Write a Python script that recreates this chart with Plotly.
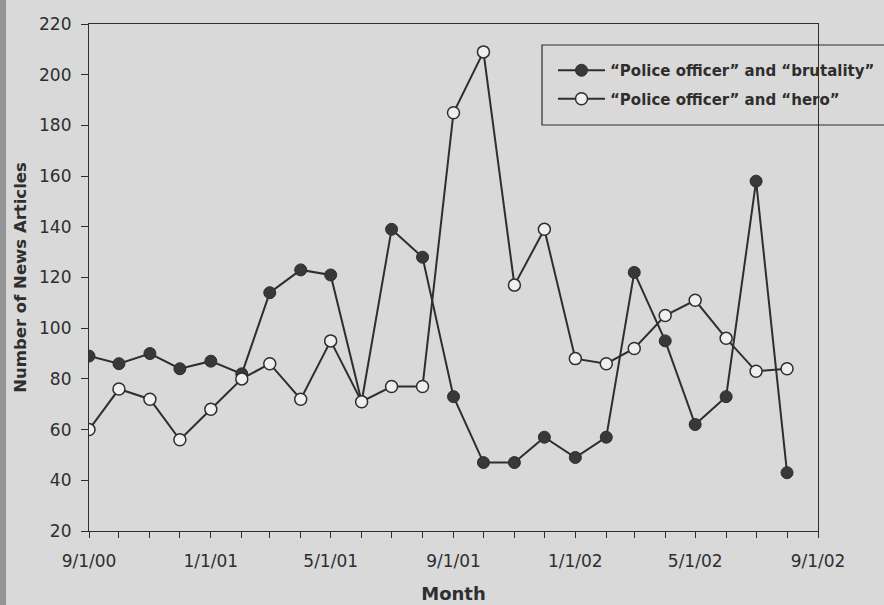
import plotly.graph_objects as go

# Monthly article counts, Sept 2000 - Aug 2002
months = ["2000-09-01", "2000-10-01", "2000-11-01", "2000-12-01",
          "2001-01-01", "2001-02-01", "2001-03-01", "2001-04-01",
          "2001-05-01", "2001-06-01", "2001-07-01", "2001-08-01",
          "2001-09-01", "2001-10-01", "2001-11-01", "2001-12-01",
          "2002-01-01", "2002-02-01", "2002-03-01", "2002-04-01",
          "2002-05-01", "2002-06-01", "2002-07-01", "2002-08-01"]
brutality = [89, 86, 90, 84, 87, 82, 114, 123, 121, 71, 139, 128,
             73, 47, 47, 57, 49, 57, 122, 95, 62, 73, 158, 43]
hero = [60, 76, 72, 56, 68, 80, 86, 72, 95, 71, 77, 77,
        185, 209, 117, 139, 88, 86, 92, 105, 111, 96, 83, 84]

x_tickvals = ["2000-09-01", "2001-01-01", "2001-05-01", "2001-09-01",
              "2002-01-01", "2002-05-01", "2002-09-01"]
x_ticktext = ["9/1/00", "1/1/01", "5/1/01", "9/1/01", "1/1/02", "5/1/02", "9/1/02"]
y_tickvals = list(range(20, 221, 20))

ink = "#2e2e2e"
paper = "#d9d9d9"
bold_font = "DejaVu Sans"

fig = go.Figure()
fig.add_trace(go.Scatter(
    x=months, y=brutality, mode="lines+markers",
    name="“Police officer” and “brutality”", legendgroup="a",
    line=dict(color=ink, width=2),
    marker=dict(symbol="circle", size=12, color="#383838",
                line=dict(color=ink, width=1)),
))
fig.add_trace(go.Scatter(
    x=months, y=hero, mode="lines+markers",
    name="“Police officer” and “hero”", legendgroup="b",
    line=dict(color=ink, width=2),
    marker=dict(symbol="circle", size=12, color="#efefef",
                line=dict(color=ink, width=1.5)),
))

W, H = 884, 605
L, R, T, B = 89, 66, 24, 74
pw = W - L - R
ph = H - T - B

def px_x(v):
    return (v - L) / pw

def px_y(v):
    return 1 - (v - T) / ph

shapes = [
    # darker page edge on the left
    dict(type="rect", xref="paper", yref="paper",
         x0=px_x(0), x1=px_x(6), y0=px_y(H), y1=px_y(0),
         fillcolor="#959595", line=dict(width=0), layer="below"),
    # legend frame
    dict(type="rect", xref="paper", yref="paper",
         x0=px_x(542), x1=px_x(890), y0=px_y(125), y1=px_y(45),
         fillcolor="rgba(0,0,0,0)", line=dict(color=ink, width=1.2)),
]

fig.update_layout(
    width=W, height=H,
    margin=dict(l=L, r=R, t=T, b=B, pad=0, autoexpand=False),
    paper_bgcolor=paper, plot_bgcolor=paper,
    font=dict(family="DejaVu Sans", size=17, color=ink),
    showlegend=True,
    legend=dict(
        x=px_x(553), y=px_y(54), xanchor="left", yanchor="top",
        bgcolor="rgba(0,0,0,0)", borderwidth=0,
        font=dict(family=bold_font, size=15, color=ink, weight="bold"),
        traceorder="grouped", tracegroupgap=6, itemwidth=47,
    ),
    shapes=shapes,
    xaxis=dict(
        type="date", range=["2000-09-01", "2002-09-01"],
        tickvals=x_tickvals, ticktext=x_ticktext,
        ticks="outside", ticklen=6, tickcolor=ink, tickwidth=1,
        ticklabelstandoff=8,
        minor=dict(ticks="outside", ticklen=6, tickcolor=ink, dtick="M1",
                   tick0="2000-09-01", showgrid=False),
        showline=True, linecolor=ink, linewidth=1.2, mirror=True,
        showgrid=False, zeroline=False,
        title=dict(text="Month", standoff=17,
                   font=dict(family=bold_font, size=18, weight="bold")),
    ),
    yaxis=dict(
        range=[20, 220], tickvals=y_tickvals,
        ticks="outside", ticklen=7, tickcolor=ink, tickwidth=1,
        ticklabelstandoff=6,
        showline=True, linecolor=ink, linewidth=1.2, mirror=True,
        showgrid=False, zeroline=False,
        title=dict(text="Number of News Articles", standoff=8,
                   font=dict(family=bold_font, size=16.5, weight="bold")),
    ),
)

fig.write_html("out.html")
